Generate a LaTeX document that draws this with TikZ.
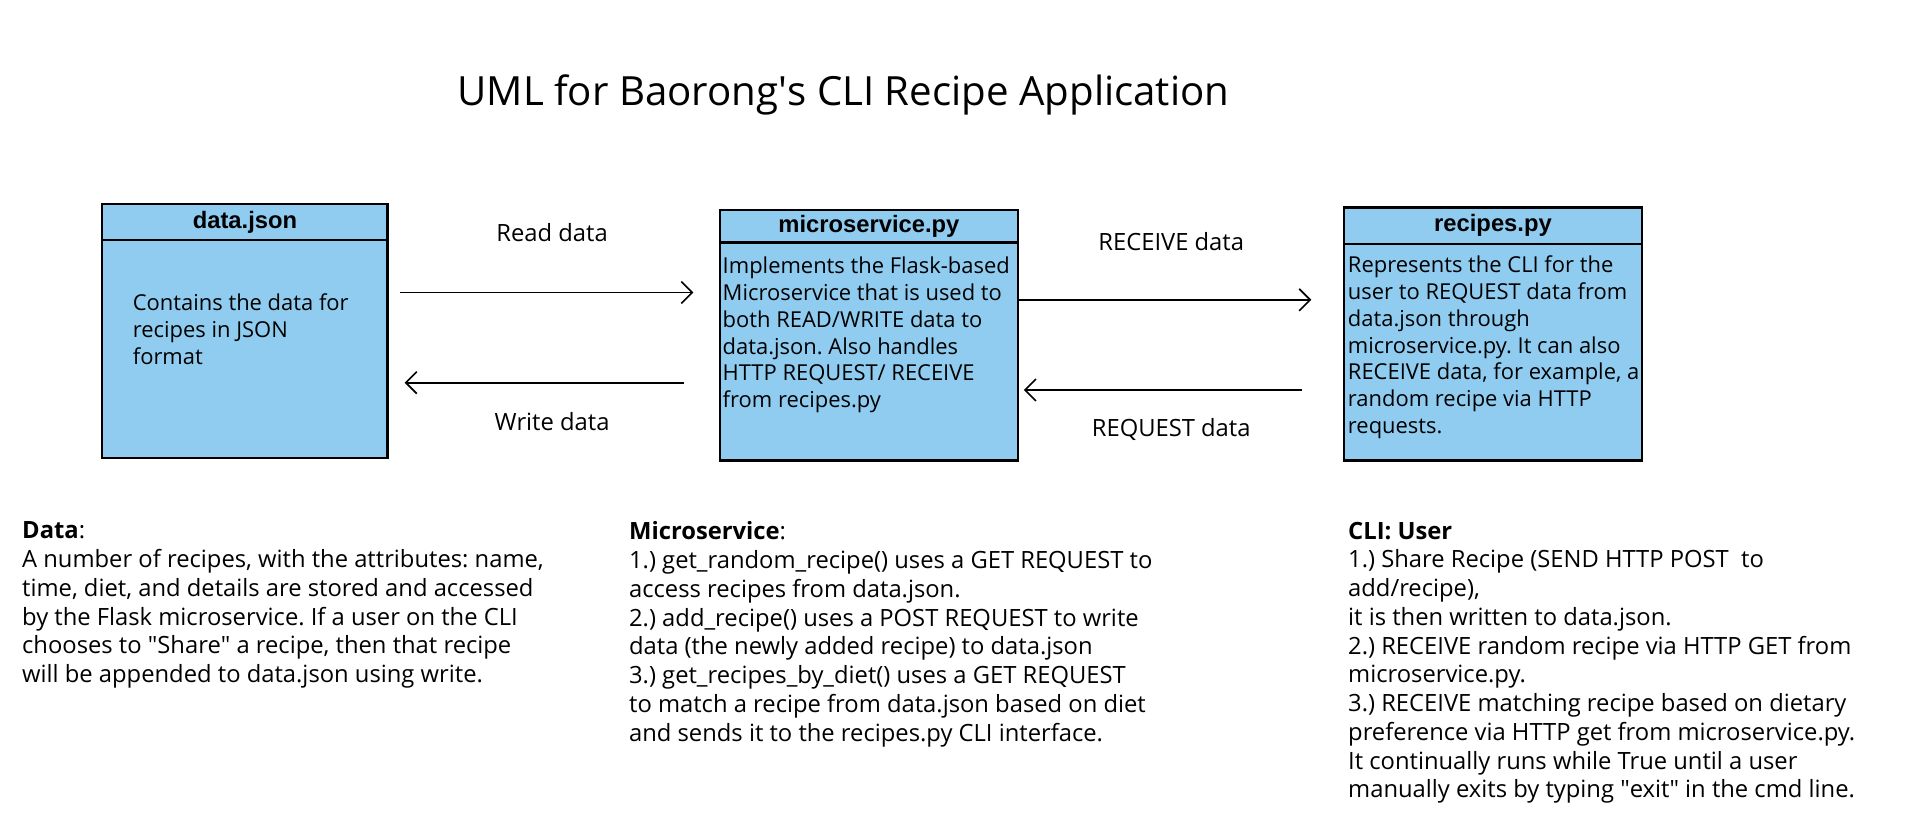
\documentclass[tikz,border=0pt]{standalone}
\usepackage{fontspec}
\setmainfont{Open Sans}
\newfontfamily\headfont{Liberation Sans}
\usetikzlibrary{arrows.meta,positioning,shapes.multipart}
\definecolor{classblue}{RGB}{143,204,240}
\frenchspacing

\newcommand{\classhead}[3]{\parbox[c][#1][c]{#2}{\centering\headfont\bfseries\fontsize{19.5}{22}\selectfont\raisebox{-1.5pt}{#3}}}

\begin{document}
\begin{tikzpicture}[x=1pt, y=-1pt, node distance=270pt,
        classbox/.style={
            rectangle split,
            rectangle split parts=2,
            rectangle split part fill={classblue, classblue},
            draw,
            line width=1.8pt,
            inner sep=0pt,
            outer sep=0pt
        },
        flow/.style={line width=1.4pt, -{Straight Barb[length=9pt, width=18pt, line width=1.4pt]}},
        flowtext/.style={font=\fontsize{19.5}{23}\selectfont},
        notetext/.style={align=left, anchor=north west, inner sep=0pt, font=\fontsize{19.5}{23.6}\selectfont}]

        \useasboundingbox (0,0) rectangle (1568,683);

        \node (0) at (692,78) {\fontsize{33}{40}\selectfont UML for Baorong\textquotesingle s CLI Recipe Application};

        \node (2) [classbox] at (713,275)
        {
            \nodepart{one}
                \classhead{25pt}{244pt}{microservice.py}
            \nodepart{two}
                \parbox[t][177pt][t]{244pt}{\fontsize{18}{22}\selectfont\raggedright
                    \leftskip=2pt\vspace*{11pt}
                    Implements the Flask-based\\
                    Microservice that is used to\\
                    both READ/WRITE data to\\
                    data.json. Also handles\\
                    HTTP REQUEST/ RECEIVE\\
                    from recipes.py}
        };

        \node (1) [classbox, left=273pt of 2, yshift=3.5pt]
        {
            \nodepart{one}
                \classhead{28pt}{234pt}{data.json}
            \nodepart{two}
                \parbox[t][177pt][t]{234pt}{\fontsize{18}{22}\selectfont\raggedright
                    \leftskip=25pt\vspace*{43pt}
                    Contains the data for\\
                    recipes in JSON\\
                    format}
        };

        \node (3) [classbox, right=268pt of 2, yshift=1pt]
        {
            \nodepart{one}
                \classhead{28pt}{244pt}{recipes.py}
            \nodepart{two}
                \parbox[t][176pt][t]{244pt}{\fontsize{18}{22}\selectfont\raggedright
                    \leftskip=3pt\vspace*{9pt}
                    Represents the CLI for the\\
                    user to REQUEST data from\\
                    data.json through\\
                    microservice.py. It can also\\
                    RECEIVE data, for example, a\\
                    random recipe via HTTP\\
                    requests.}
        };

        \node (4) [flowtext] at (453,191) {Read data};
        \node (5) [flowtext] at (453,346) {Write data};
        \node (6) [flowtext] at (961,198) {RECEIVE data};
        \node (7) [flowtext] at (961,352) {REQUEST data};

        \draw[flow] ([xshift=10pt, yshift=31.5pt]1.east) -- ([xshift=-22pt, yshift=35pt]2.west);
        \draw[flow] ([xshift=-30pt, yshift=-39pt]2.west) -- ([xshift=14pt, yshift=-42.5pt]1.east);
        \draw[flow] ([yshift=29pt]2.east) -- ([xshift=-27pt, yshift=28pt]3.west);
        \draw[flow] ([xshift=-35pt, yshift=-46pt]3.west) -- ([xshift=5pt, yshift=-45pt]2.east);

        \node (8) [notetext] at (18,428)
        {
            \textbf{Data}:\\
            A number of recipes, with the attributes: name,\\
            time, diet, and details are stored and accessed\\
            by the Flask microservice. If a user on the CLI\\
            chooses to \textquotedbl Share\textquotedbl\ a recipe, then that recipe\\
            will be appended to data.json using write.
        };

        \node (9) [notetext] at (516,428)
        {
            \textbf{Microservice}:\\
            1.) get\_random\_recipe() uses a GET REQUEST to\\
            access recipes from data.json.\\
            2.) add\_recipe() uses a POST REQUEST to write\\
            data (the newly added recipe) to data.json\\
            3.) get\_recipes\_by\_diet() uses a GET REQUEST\\
            to match a recipe from data.json based on diet\\
            and sends it to the recipes.py CLI interface.
        };

        \node (10) [notetext] at (1106,428)
        {
            \textbf{CLI: User}\\
            1.) Share Recipe (SEND HTTP POST\ \ to\\
            add/recipe),\\
            it is then written to data.json.\\
            2.) RECEIVE random recipe via HTTP GET from\\
            microservice.py.\\
            3.) RECEIVE matching recipe based on dietary\\
            preference via HTTP get from microservice.py.\\
            It continually runs while True until a user\\
            manually exits by typing \textquotedbl exit\textquotedbl\ in the cmd line.
        };
\end{tikzpicture}
\end{document}
